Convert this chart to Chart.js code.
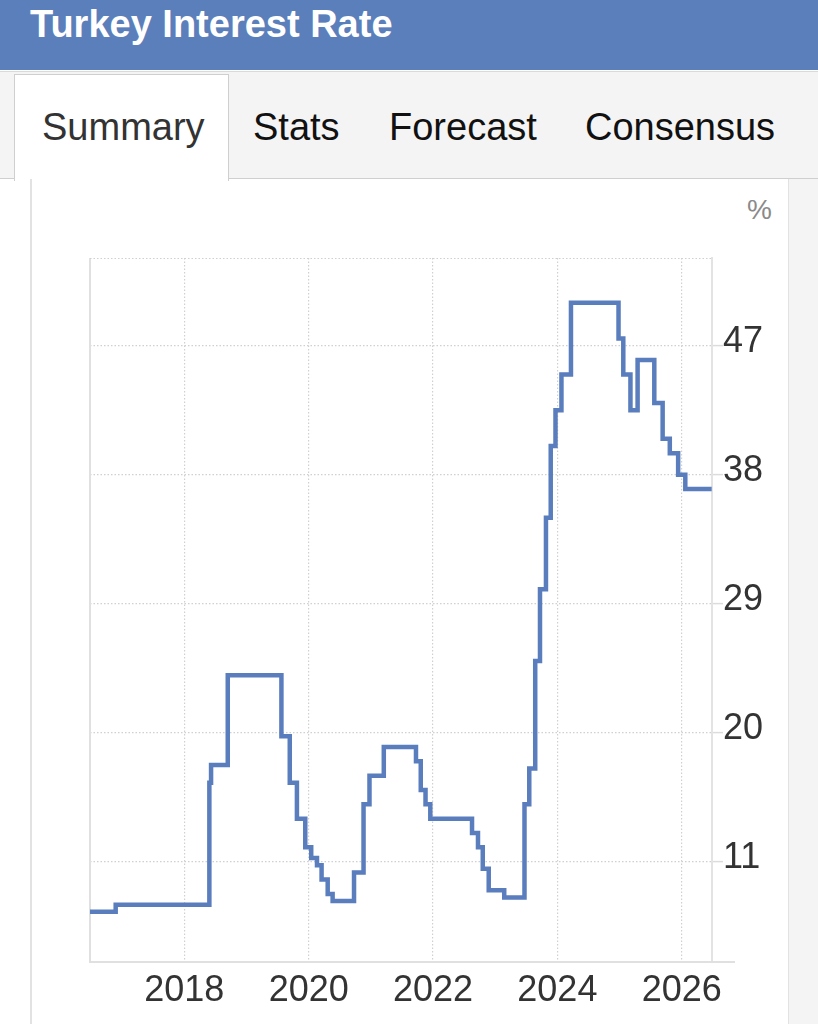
<!DOCTYPE html>
<html>
<head>
<meta charset="utf-8">
<script src="https://cdn.jsdelivr.net/npm/chart.js@4.4.1/dist/chart.umd.min.js"></script>
<style>
  html, body { margin: 0; padding: 0; }
  body {
    width: 818px; height: 1024px; position: relative; overflow: hidden;
    background: #fff; font-family: "Liberation Sans", Arial, Helvetica, sans-serif;
  }
  #header { position: absolute; left: 0; top: 0; width: 818px; height: 70px; background: #5b7fbb; }
  #header h1 {
    position: absolute; left: 30px; top: 5px; margin: 0;
    font-size: 38px; line-height: 38px; font-weight: bold; color: #fff; white-space: nowrap;
  }
  #tabbar {
    position: absolute; left: 0; top: 71px; width: 818px; height: 106px;
    background: #f4f4f4; border-top: 1px solid #dadada; border-bottom: 1.5px solid #cfcfcf;
  }
  #active {
    position: absolute; left: 14px; top: 74px; width: 213px; height: 106px;
    background: #fff; border: 1.5px solid #cfcfcf; border-bottom: none;
  }
  .tab {
    position: absolute; top: 108px; font-size: 38px; line-height: 38px; color: #111; white-space: nowrap;
  }
  #panelL { position: absolute; left: 30px; top: 179px; width: 1.5px; height: 845px; background: #e2e2e2; }
  #panelR { position: absolute; left: 788px; top: 179px; width: 30px; height: 845px; background: #f4f4f4; border-left: 1.5px solid #e2e2e2; }
  #unit { position: absolute; left: 747px; top: 196px; font-size: 28px; line-height: 28px; color: #8a8a8a; }
  #wrap { position: absolute; left: 0; top: 180px; width: 818px; height: 844px; }
</style>
</head>
<body>
<div id="header"><h1>Turkey Interest Rate</h1></div>
<div id="tabbar"></div>
<div id="active"></div>
<div class="tab" style="left:42px;color:#333">Summary</div>
<div class="tab" style="left:253px">Stats</div>
<div class="tab" style="left:389px">Forecast</div>
<div class="tab" style="left:585px">Consensus</div>
<div id="panelL"></div>
<div id="panelR"></div>
<div id="unit">%</div>
<div id="wrap"><canvas id="rate_chart"></canvas></div>

<script>
// policy rate decisions (date the new rate applies, rate in %)
const rateDates = [
    '2016-06-25', '2016-11-24', '2018-05-28', '2018-06-07', '2018-09-13',
    '2019-07-25', '2019-09-12', '2019-10-24', '2019-12-12', '2020-01-16',
    '2020-02-19', '2020-03-17', '2020-04-22', '2020-05-21', '2020-09-24',
    '2020-11-19', '2020-12-24', '2021-03-18', '2021-09-23', '2021-10-21',
    '2021-11-18', '2021-12-16', '2022-08-18', '2022-09-22', '2022-10-20',
    '2022-11-24', '2023-02-23', '2023-06-22', '2023-07-20', '2023-08-24',
    '2023-09-21', '2023-10-26', '2023-11-23', '2023-12-21', '2024-01-25',
    '2024-03-21', '2024-12-26', '2025-01-23', '2025-03-06', '2025-04-17',
    '2025-07-24', '2025-09-11', '2025-10-23', '2025-12-11', '2026-01-22',
    '2026-06-26'
];
const rateValues = [
    7.5, 8, 16.5, 17.75, 24,
    19.75, 16.5, 14, 12, 11.25,
    10.75, 9.75, 8.75, 8.25, 10.25,
    15, 17, 19, 18, 16,
    15, 14, 13, 12, 10.5,
    9, 8.5, 15, 17.5, 25,
    30, 35, 40, 42.5, 45,
    50, 47.5, 45, 42.5, 46,
    43, 40.5, 39.5, 38, 37,
    37
];
const yearTicks = [2018, 2020, 2022, 2024, 2026];
const rateTicks = [11, 20, 29, 38, 47];

// date string -> decimal year, for the linear x scale
function to_year( s ){
    let d     = new Date( s + 'T00:00:00Z' );
    let y     = d.getUTCFullYear();
    let start = Date.UTC( y, 0, 1 );
    let end   = Date.UTC( y + 1, 0, 1 );
    return y + ( d - start ) / ( end - start );
}

const points = rateDates.map( ( d, i ) => ({ x: to_year( d ), y: rateValues[i] }) );

// solid left/bottom frame and dotted top line
const frame_plugin = {
    id: 'frame',
    beforeDatasetsDraw( chart ){
        const { ctx, chartArea: a } = chart;
        ctx.save();
        ctx.strokeStyle = '#e0e0e0';
        ctx.lineWidth = 2;
        ctx.beginPath();
        ctx.moveTo( a.left, a.top );
        ctx.lineTo( a.left, a.bottom );
        ctx.lineTo( a.right + 23, a.bottom );
        ctx.stroke();
        ctx.strokeStyle = '#d0d0d0';
        ctx.lineWidth = 1.2;
        ctx.setLineDash( [1.5, 2] );
        ctx.beginPath();
        ctx.moveTo( a.left, a.top + 0.5 );
        ctx.lineTo( a.right, a.top + 0.5 );
        ctx.stroke();
        ctx.restore();
    }
};

const tick_font = { family: '"Liberation Sans", Arial, sans-serif', size: 36 };

new Chart( document.getElementById('rate_chart'), {
    type: 'line',
    data: {
        datasets: [{
            label: 'Interest Rate',
            data: points,
            borderColor: '#5a7ebd',
            borderWidth: 4.5,
            pointRadius: 0,
            stepped: true,
            fill: false
        }]
    },
    options: {
        responsive: true,
        maintainAspectRatio: false,
        animation: false,
        layout: { padding: { left: 90, top: 78, right: 30, bottom: 0 } },
        plugins: {
            legend: { display: false },
            tooltip: { enabled: false }
        },
        scales: {
            x: {
                type: 'linear',
                min: 2016.483,
                max: 2026.487,
                afterBuildTicks: s => { s.ticks = yearTicks.map( v => ({ value: v }) ); },
                afterFit: s => { s.height = 62; },
                ticks: {
                    callback: v => String( v ),
                    font: tick_font,
                    color: '#333',
                    padding: 7,
                    maxRotation: 0,
                    autoSkip: false
                },
                grid: { color: '#d0d0d0', lineWidth: 1.2, drawTicks: false },
                border: { display: false, dash: [1.5, 2] }
            },
            y: {
                position: 'right',
                min: 4,
                max: 53.12,
                afterBuildTicks: s => { s.ticks = rateTicks.map( v => ({ value: v }) ); },
                afterFit: s => { s.width = 76; },
                ticks: {
                    callback: v => String( v ),
                    font: tick_font,
                    color: '#333',
                    padding: 0,
                    labelOffset: -4
                },
                grid: {
                    color: '#d0d0d0',
                    lineWidth: 1.2,
                    tickLength: 11,
                    tickColor: '#dcdcdc',
                    tickWidth: 1.5,
                    tickBorderDash: []
                },
                border: { display: true, color: '#e3e3e3', width: 2, dash: [1.5, 2] }
            }
        }
    },
    plugins: [ frame_plugin ]
});
</script>
</body>
</html>
